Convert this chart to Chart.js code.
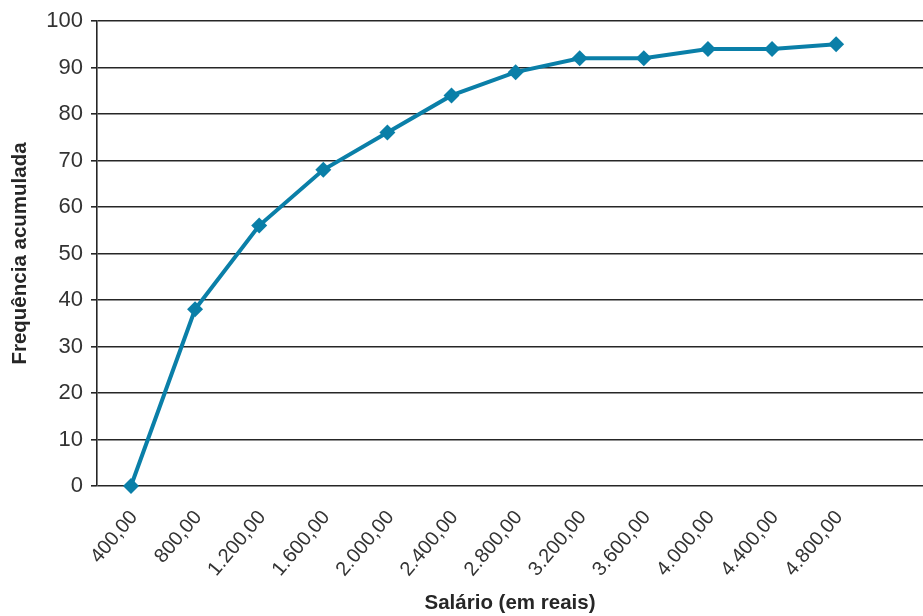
<!DOCTYPE html>
<html>
<head>
<meta charset="utf-8">
<script src="https://cdn.jsdelivr.net/npm/chart.js@4"></script>
<style>
  html, body { margin: 0; padding: 0; background: #fff; }
  #wrap { width: 923px; height: 616px; position: relative; }
</style>
</head>
<body>
<div id="wrap"><canvas id="c" width="923" height="616"></canvas></div>
<script>
// Salário (em reais) — limites de classe
const salarios = [400, 800, 1200, 1600, 2000, 2400, 2800, 3200, 3600, 4000, 4400, 4800];
// Rótulos do eixo horizontal
const rotulosSalario = ['400,00', '800,00', '1.200,00', '1.600,00', '2.000,00', '2.400,00',
  '2.800,00', '3.200,00', '3.600,00', '4.000,00', '4.400,00', '4.800,00'];
// Frequência acumulada
const frequenciaAcumulada = [0, 38, 56, 68, 76, 84, 89, 92, 92, 94, 94, 95];
// Marcas do eixo vertical
const marcasFrequencia = [0, 10, 20, 30, 40, 50, 60, 70, 80, 90, 100];

const azul = '#0a7fa8';
const tinta = '#262626';

Chart.defaults.font.family = '"Liberation Sans", Arial, sans-serif';
Chart.defaults.color = '#333';

new Chart(document.getElementById('c'), {
  type: 'line',
  data: {
    datasets: [{
      data: salarios.map((s, i) => ({ x: s, y: frequenciaAcumulada[i] })),
      borderColor: azul,
      backgroundColor: azul,
      borderWidth: 4,
      tension: 0,
      pointStyle: 'rectRot',
      pointRadius: 8,
      pointBorderWidth: 0,
      pointBackgroundColor: azul,
      clip: false
    }]
  },
  options: {
    responsive: false,
    animation: false,
    layout: { autoPadding: false, padding: { top: 21, right: 0, bottom: 0, left: 0 } },
    plugins: { legend: { display: false }, tooltip: { enabled: false } },
    scales: {
      x: {
        type: 'linear',
        min: 188,
        max: 5342,
        afterBuildTicks: (scale) => { scale.ticks = salarios.map(v => ({ value: v })); },
        afterFit: (scale) => {
          scale.height = 130;
          scale.paddingLeft = 0;
          scale.paddingRight = 0;
        },
        grid: { display: false, drawTicks: false },
        border: { display: false },
        ticks: {
          autoSkip: false,
          minRotation: 50,
          maxRotation: 50,
          padding: 20,
          labelOffset: 3,
          font: { size: 20 },
          color: '#333',
          callback: (value, index) => rotulosSalario[index]
        },
        title: {
          display: true,
          text: 'Salário (em reais)',
          font: { size: 20.5, weight: 'bold' },
          color: tinta,
          padding: { top: 0, bottom: 0 }
        }
      },
      y: {
        min: 0,
        max: 100,
        afterBuildTicks: (scale) => { scale.ticks = marcasFrequencia.map(v => ({ value: v })); },
        afterFit: (scale) => {
          scale.width = 97;
          scale.paddingTop = 0;
          scale.paddingBottom = 0;
        },
        grid: {
          color: tinta,
          lineWidth: 1.6,
          drawTicks: true,
          tickLength: 6,
          tickColor: tinta
        },
        border: { display: true, color: tinta, width: 1.6 },
        ticks: {
          padding: 8,
          font: { size: 22 },
          color: '#333'
        },
        title: {
          display: true,
          text: 'Frequência acumulada',
          font: { size: 20.5, weight: 'bold' },
          color: tinta,
          padding: { top: 8, bottom: 0 }
        }
      }
    }
  },
  plugins: [{
    id: 'fundoBranco',
    beforeDraw: (chart) => {
      const ctx = chart.ctx;
      ctx.save();
      ctx.fillStyle = '#fff';
      ctx.fillRect(0, 0, chart.width, chart.height);
      ctx.restore();
    }
  }]
});
</script>
</body>
</html>
